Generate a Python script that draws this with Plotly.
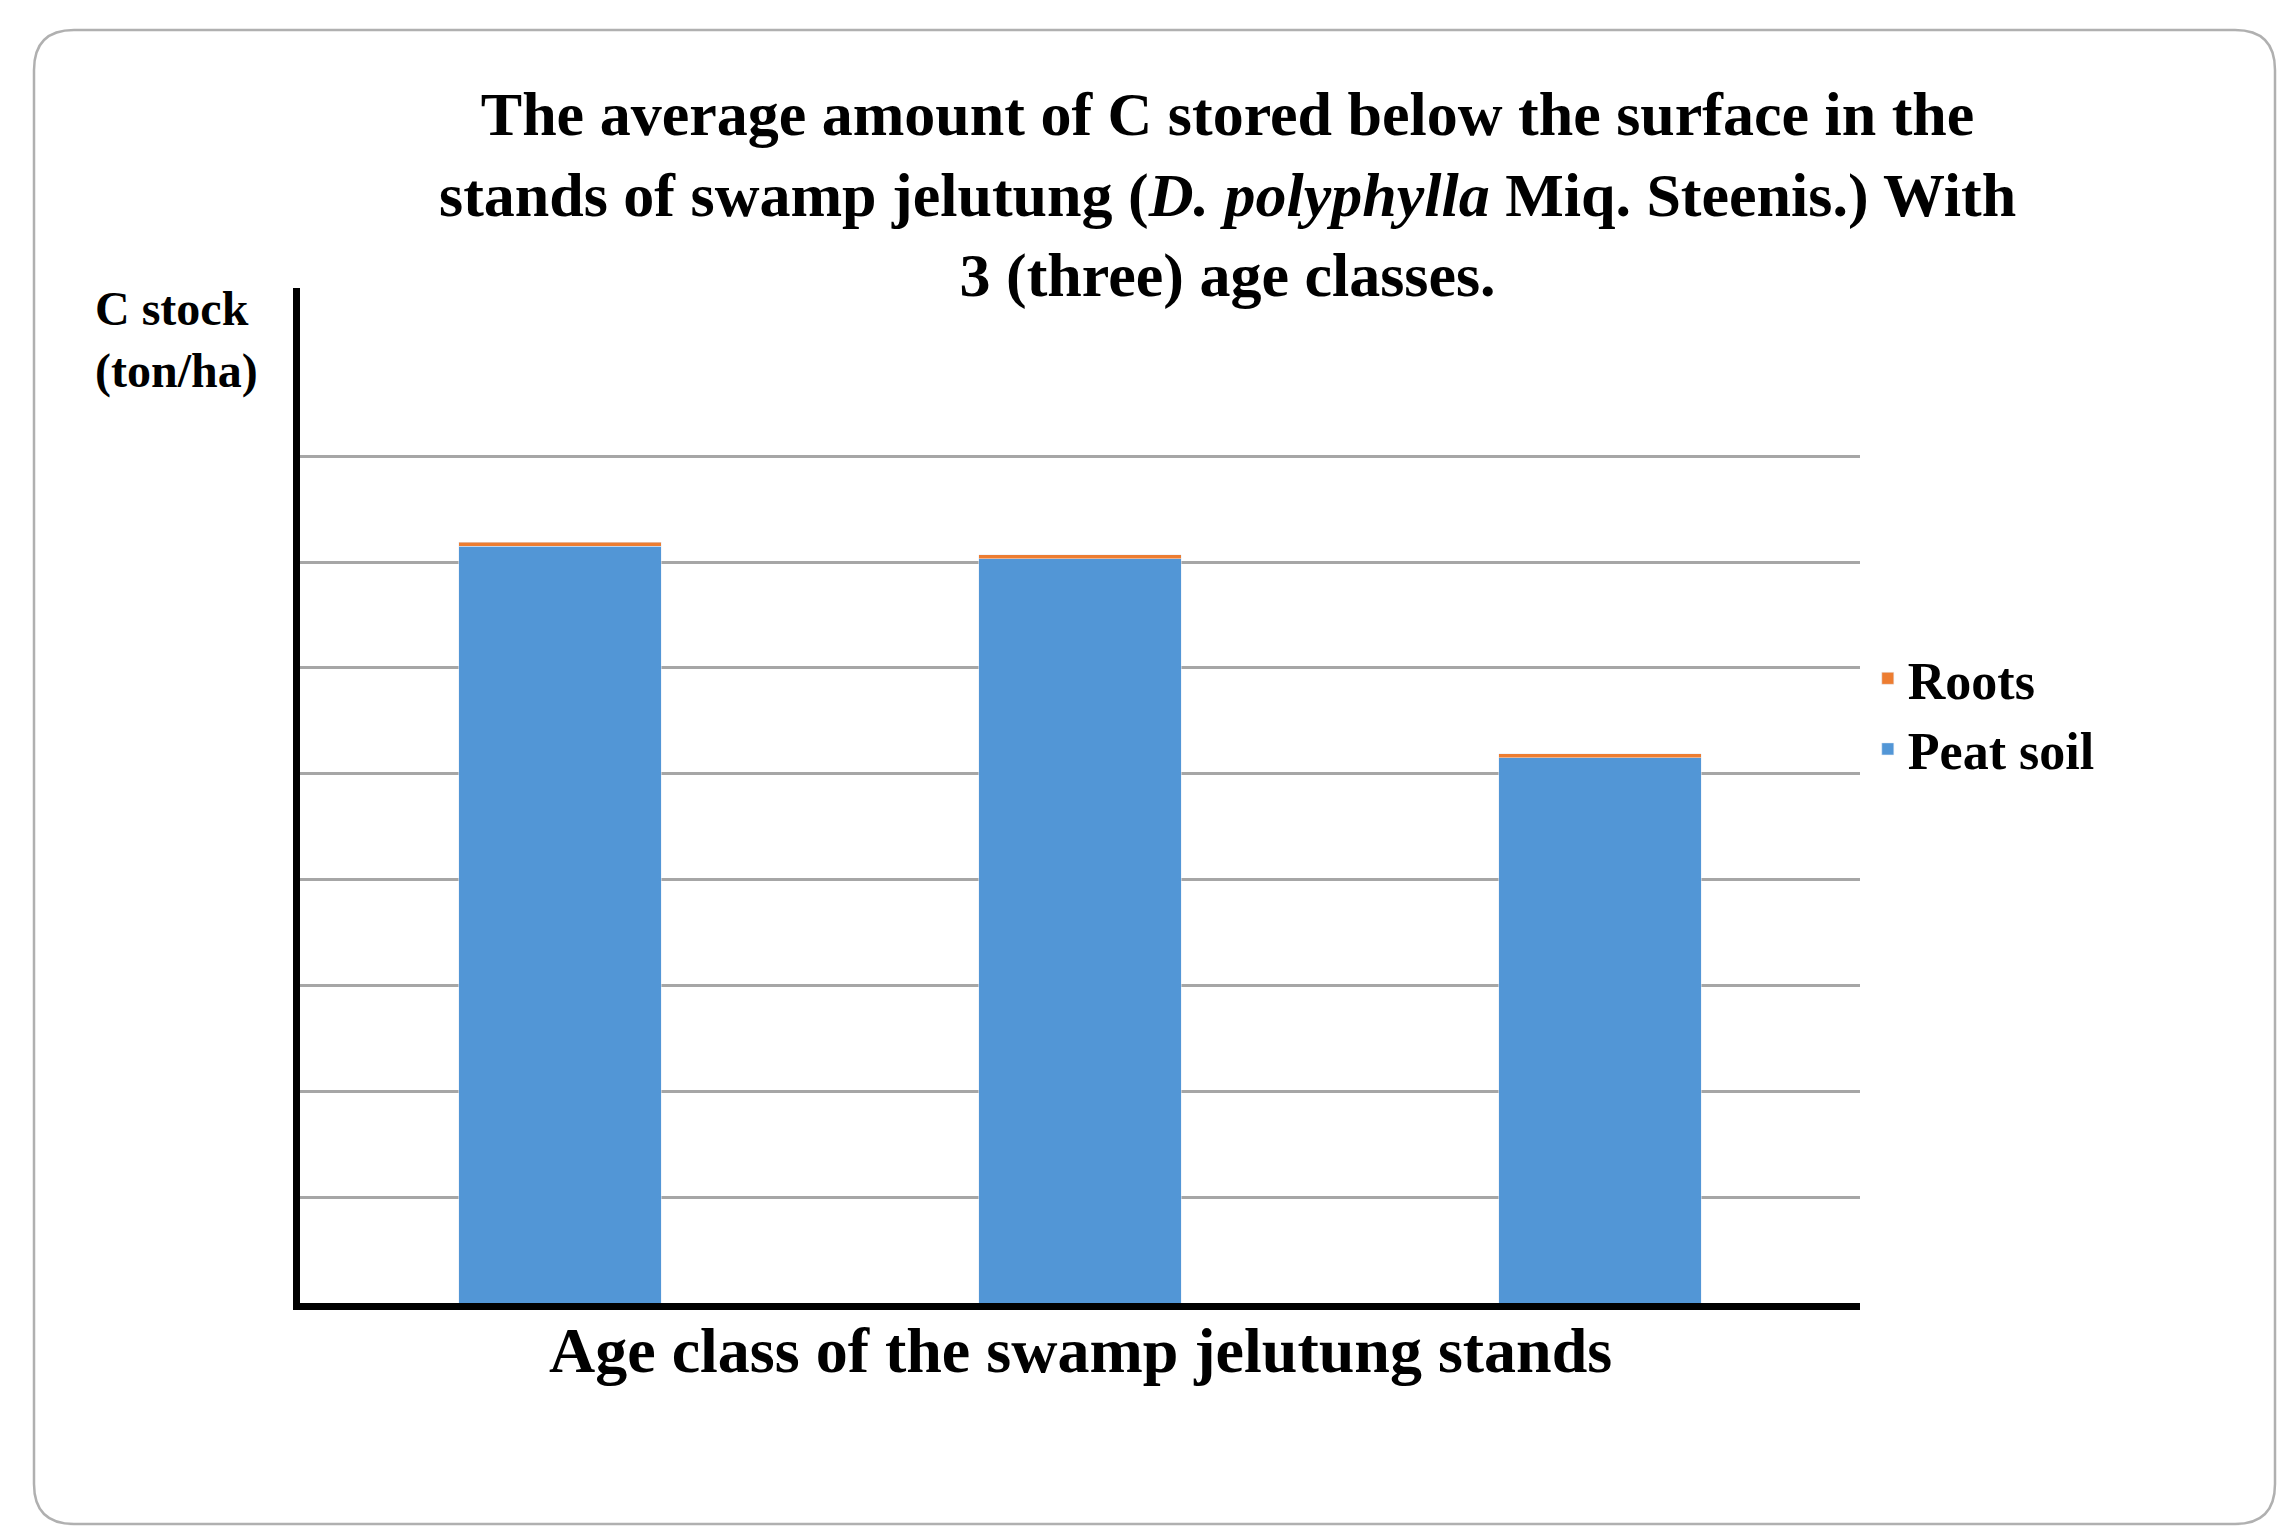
import plotly.graph_objects as go

categories = ["Age class 1", "Age class 2", "Age class 3"]
peat_soil = [715, 703, 515]
roots = [4, 4, 4]
grid_vals = [100, 200, 300, 400, 500, 600, 700, 800]

fig = go.Figure()
fig.add_trace(go.Bar(x=categories, y=peat_soil, name="<b>Peat soil</b>", marker_color="#5296d6",
                     width=0.39, legendgroup="a"))
fig.add_trace(go.Bar(x=categories, y=roots, name="<b>Roots</b>", marker_color="#ed7d31",
                     width=0.39, legendgroup="b"))

W, H = 2286, 1539
x0, x1 = 292, 1852
y0, y1 = 280, 1295
pw, ph = x1 - x0, y1 - y0
def px(x): return (x - x0) / pw
def py(y): return 1 - (y - y0) / ph
L, R, T, B = px(26), px(2267), py(22), py(1516)
rx, ry = 40 / pw, 40 / ph
path = (f"M {L+rx},{T} L {R-rx},{T} Q {R},{T} {R},{T-ry} L {R},{B+ry} Q {R},{B} {R-rx},{B} "
        f"L {L+rx},{B} Q {L},{B} {L},{B+ry} L {L},{T-ry} Q {L},{T} {L+rx},{T} Z")

fig.update_layout(
    width=W, height=H, barmode="stack",
    paper_bgcolor="white", plot_bgcolor="white",
    margin=dict(l=x0, r=W - x1, t=y0, b=H - y1),
    font=dict(family="Liberation Serif", color="black"),
    showlegend=True,
    legend=dict(x=1.005, y=py(630), xanchor="left", yanchor="top", traceorder="reversed",
                font=dict(size=52, family="Liberation Serif"), tracegroupgap=55,
                itemwidth=30),
    xaxis=dict(showticklabels=False, showline=True, linecolor="black", linewidth=7,
               ticks="", showgrid=False),
    yaxis=dict(range=[0, 959], tickvals=grid_vals, showticklabels=False, showline=True,
               linecolor="black", linewidth=7, showgrid=True, gridcolor="#a6a6a6",
               gridwidth=2.5, zeroline=False, ticks=""),
    shapes=[dict(type="path", xref="paper", yref="paper", layer="below", path=path,
                 line=dict(color="#b0b0b0", width=2.5))],
    annotations=[
        dict(text="<b>The average amount of C stored below the surface in the<br>stands of swamp jelutung (<i>D. polyphylla</i> Miq. Steenis.) With<br>3 (three) age classes.</b>",
             xref="paper", yref="paper", x=px(1219), y=py(70),
             xanchor="center", yanchor="top", showarrow=False, font=dict(size=62), align="center"),
        dict(text="<b>C stock<br>(ton/ha)</b>", xref="paper", yref="paper",
             x=px(168), y=py(272), xanchor="center", yanchor="top",
             showarrow=False, font=dict(size=48), align="left"),
        dict(text="<b>Age class of the swamp jelutung stands</b>", xref="paper", yref="paper",
             x=px(1072), y=py(1342), xanchor="center", yanchor="middle",
             showarrow=False, font=dict(size=64)),
    ],
)
fig.write_html("out.html")
